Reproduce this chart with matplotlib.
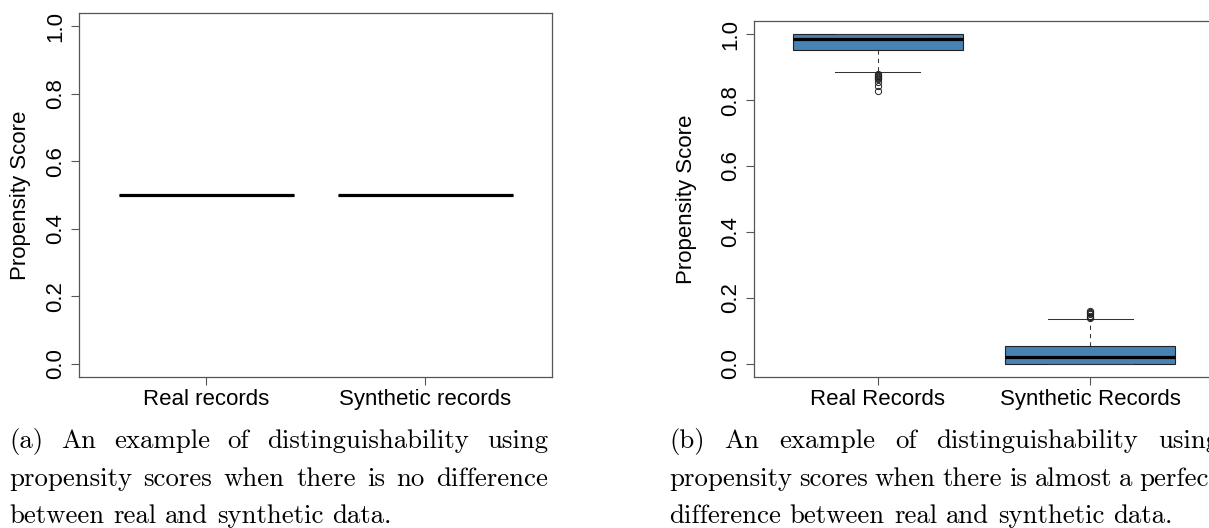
import matplotlib
matplotlib.use("Agg")
import matplotlib.pyplot as plt

# ---- data -------------------------------------------------------------
labels_a = ["Real records", "Synthetic records"]
labels_b = ["Real Records", "Synthetic Records"]
y_ticks = [0.0, 0.2, 0.4, 0.6, 0.8, 1.0]
y_tick_labels = ["0.0", "0.2", "0.4", "0.6", "0.8", "1.0"]

# (a) identical propensity scores for both groups
a_median = [0.5, 0.5]
a_q1 = [0.5, 0.5]
a_q3 = [0.5, 0.5]
a_whislo = [0.5, 0.5]
a_whishi = [0.5, 0.5]

# (b) nearly perfect separation
b_median = [0.984, 0.021]
b_q1 = [0.951, 0.0]
b_q3 = [1.0, 0.053]
b_whislo = [0.8845, 0.0]
b_whishi = [1.0, 0.136]
b_outliers_real = [0.880, 0.877, 0.874, 0.871, 0.868, 0.865, 0.855, 0.842, 0.827]
b_outliers_synth = [0.140, 0.143, 0.146, 0.150, 0.153, 0.157, 0.161]

caption_a = [
    "(a) An example of distinguishability using",
    "propensity scores when there is no difference",
    "between real and synthetic data.",
]
caption_b = [
    "(b) An example of distinguishability using",
    "propensity scores when there is almost a perfect",
    "difference between real and synthetic data.",
]

# ---- figure -----------------------------------------------------------
W, H = 1209, 528
fig = plt.figure(figsize=(W / 100, H / 100), dpi=100)
fig.patch.set_facecolor("white")

SANS = ["Liberation Sans", "DejaVu Sans"]
AX_FS = 16
FRAME = "#555555"


def add_axes_px(left, top, right, bottom):
    return fig.add_axes([left / W, 1 - bottom / H, (right - left) / W, (bottom - top) / H])


def make_stats(med, q1, q3, lo, hi, fliers):
    return [dict(med=med[i], q1=q1[i], q3=q3[i], whislo=lo[i], whishi=hi[i],
                 fliers=fliers[i]) for i in range(len(med))]


def style_axes(ax, xlabels, ylabel_x):
    ax.set_xlim(0.42, 2.58)
    ax.set_ylim(-0.04, 1.04)
    ax.set_xticks([1, 2])
    ax.set_xticklabels(xlabels, family=SANS, fontsize=AX_FS)
    ax.set_yticks(y_ticks)
    ax.set_yticklabels(y_tick_labels, family=SANS, fontsize=AX_FS,
                       rotation=90, va="center")
    for sp in ax.spines.values():
        sp.set_color(FRAME)
        sp.set_linewidth(0.9)
    ax.tick_params(direction="out", length=5.5, width=0.8, color=FRAME,
                   labelcolor="black")
    ax.tick_params(axis="y", pad=4)
    ax.tick_params(axis="x", pad=3)
    ax.set_ylabel("Propensity Score", family=SANS, fontsize=AX_FS, va="center")
    ax.yaxis.set_label_coords(ylabel_x, 0.5)


box_kw = dict(
    positions=[1, 2], widths=0.8, capwidths=0.4, patch_artist=True,
    boxprops=dict(facecolor="steelblue", edgecolor="#222222", linewidth=0.8),
    medianprops=dict(color="black", linewidth=2.3, solid_capstyle="butt"),
    whiskerprops=dict(color="#333333", linewidth=0.75, linestyle=(0, (4, 4))),
    capprops=dict(color="#333333", linewidth=0.75),
    flierprops=dict(marker="o", markerfacecolor="none", markeredgecolor="#222222",
                    markersize=4.5, markeredgewidth=0.7),
)

# panel (a)
ax_a = add_axes_px(79.3, 12.7, 552, 377.3)
stats_a = make_stats(a_median, a_q1, a_q3, a_whislo, a_whishi, [[], []])
ax_a.bxp(stats_a, **box_kw)
style_axes(ax_a, labels_a, (21 - 79.3) / (552 - 79.3))

# panel (b)
b_right = 754.5 + 2.16 * 212.5
ax_b = add_axes_px(754.5, 21, b_right, 377)
stats_b = make_stats(b_median, b_q1, b_q3, b_whislo, b_whishi,
                     [b_outliers_real, b_outliers_synth])
ax_b.bxp(stats_b, **box_kw)
style_axes(ax_b, labels_b, (687 - 754.5) / (b_right - 754.5))

# ---- justified captions ----------------------------------------------
CAP_FS = 19.3
CAP_FONT = ["cmr10", "DejaVu Serif"]
renderer = fig.canvas.get_renderer()
space_px = 0.3333 * CAP_FS * fig.dpi / 72


def set_caption(lines, x0, width, baselines):
    for k, (line, yb) in enumerate(zip(lines, baselines)):
        words = line.split(" ")
        texts = [fig.text(0, 1 - yb / H, w, family=CAP_FONT, fontsize=CAP_FS,
                          va="baseline", ha="left") for w in words]
        widths = [t.get_window_extent(renderer).width for t in texts]
        last = k == len(lines) - 1
        if last or len(words) == 1:
            gap = space_px
        else:
            gap = (width - sum(widths)) / (len(words) - 1)
        x = x0
        for t, w in zip(texts, widths):
            t.set_x(x / W)
            x += w + gap


baselines = [448, 486, 523]
set_caption(caption_a, 9, 539, baselines)
set_caption(caption_b, 669, 550, baselines)

fig.savefig("out.png", dpi=100, facecolor="white")
